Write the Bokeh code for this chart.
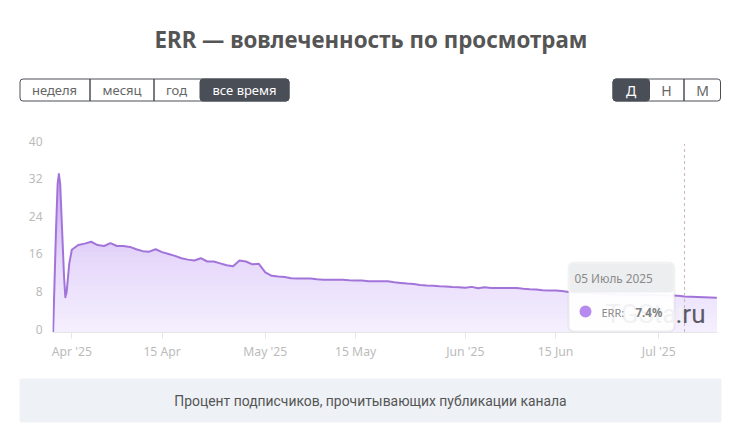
import numpy as np
import pandas as pd
from bokeh.embed import file_html
from bokeh.layouts import column
from bokeh.models import (BoxAnnotation, FixedTicker, Label, LinearAxis, Range1d)
from bokeh.plotting import figure
from bokeh.resources import INLINE

title_text = "ERR — вовлеченность по просмотрам"
note_text = "Процент подписчиков, прочитывающих публикации канала"
range_buttons = ["неделя", "месяц", "год", "все время"]
step_buttons = ["Д", "Н", "М"]
y_ticks = [0, 8, 16, 24, 32, 40]
x_tick_dates = ["2025-04-01", "2025-04-15", "2025-05-01", "2025-05-15", "2025-06-01", "2025-06-15", "2025-07-01"]
x_tick_labels = ["Apr '25", "15 Apr", "May '25", "15 May", "Jun '25", "15 Jun", "Jul '25"]

# hours-resolved reads around the opening spike
spike_days = [-2.9, -2.45, -2.2, -2.0, -1.8, -1.5, -1.2, -1.0, -0.8, -0.4]
spike_values = [0.0, 21.6, 31.5, 33.6, 31.5, 21.6, 11.7, 7.4, 8.5, 14.5]
# daily reads, starting 1 Apr 2025
daily_values = [17.5, 18.5, 18.8, 19.2, 18.5, 18.3, 18.9, 18.3, 18.3, 18.1,
                17.6, 17.2, 17.1, 17.6, 17.0, 16.6, 16.2, 15.7, 15.4, 15.2,
                15.7, 15.0, 15.0, 14.6, 14.2, 14.0, 15.2, 15.0, 14.4, 14.5,
                12.7, 11.95, 11.8, 11.7, 11.45, 11.4, 11.4, 11.4, 11.2, 11.1,
                11.1, 11.1, 11.1, 11.0, 10.95, 10.95, 10.8, 10.8, 10.8, 10.8,
                10.6, 10.45, 10.3, 10.2, 10.0, 9.9, 9.85, 9.75, 9.7, 9.55,
                9.5, 9.4, 9.6, 9.3, 9.5, 9.35, 9.35, 9.35, 9.35, 9.35,
                9.2, 9.1, 9.05, 8.9, 8.85, 8.85, 8.7, 8.5, 8.4, 8.35,
                8.3, 8.2, 8.15, 8.1, 8.05, 8.0, 7.95, 7.9, 7.9, 7.85,
                7.85, 7.8, 7.8, 7.75, 7.7, 7.55, 7.5, 7.45, 7.4, 7.35, 7.3]
marker_date = "2025-07-05"

APR1 = pd.Timestamp("2025-04-01")
days = np.array(spike_days + list(range(len(daily_values))), dtype=float)
values = np.array(spike_values + daily_values)
x = np.array([APR1 + pd.Timedelta(days=float(d)) for d in days], dtype="datetime64[ms]")

W = 725
TOP_H, MAIN_H, FOOT_H = 110, 260, 55
FL, FR, FT, FB = 52, 717, 125, 332   # chart frame edges in page pixels
PX_PER_UNIT = 4.7
ZERO_Y = 331.5


def panel(h):
    f = figure(width=W, height=h, output_backend="svg", toolbar_location=None,
               x_axis_location=None, y_axis_location=None, min_border=0,
               x_range=(0, W), y_range=(h, 0), frame_align=False)
    f.outline_line_color = None
    f.grid.visible = False
    return f


def box(f, oy, l, r, t, b, fill=None, line=None, radius=0, alpha=1.0):
    f.add_layout(BoxAnnotation(left=l, right=r, top=t - oy, bottom=b - oy,
                               left_units="canvas", right_units="canvas",
                               top_units="canvas", bottom_units="canvas",
                               fill_color=fill, fill_alpha=alpha if fill else 0,
                               line_color=line, line_alpha=1 if line else 0, line_width=1,
                               border_radius=radius, level="annotation", editable=False))


def text(f, oy, tx, cx, cy, size, color, font="Noto Sans", style="normal", align="center", base="middle"):
    f.add_layout(Label(x=cx, y=cy - oy, x_units="canvas", y_units="canvas", text=tx,
                       text_font=font, text_font_size=size, text_color=color, text_font_style=style,
                       text_align=align, text_baseline=base))


# ---------- header
top = panel(TOP_H)
DARK = "#4a4e57"
text(top, 0, title_text, 370.5, 39, "22.3px", "#555555", style="bold")
box(top, 0, 19.5, 288.5, 78.5, 100.5, fill="white", line=DARK, radius=3)
box(top, 0, 199.5, 288.5, 78.5, 100.5, fill=DARK, line=DARK, radius=3)
for sx in (89.5, 153.5):
    box(top, 0, sx, sx, 78.5, 100.5, line=DARK)
for t, cx, col in zip(range_buttons, (54, 121.5, 176, 244), ("#666666", "#666666", "#666666", "#ffffff")):
    text(top, 0, t, cx, 89.5, "13px", col)
box(top, 0, 612.5, 720, 78.5, 100.5, fill="white", line=DARK, radius=3)
box(top, 0, 612.5, 649, 78.5, 100.5, fill=DARK, line=DARK, radius=3)
box(top, 0, 683.5, 683.5, 78.5, 100.5, line=DARK)
for t, cx, col in zip(step_buttons, (630.5, 666, 702), ("#ffffff", "#666666", "#666666")):
    text(top, 0, t, cx, 89.5, "14px", col)

# ---------- chart
p = figure(width=W, height=MAIN_H, output_backend="svg", toolbar_location=None,
           x_axis_type="datetime", min_border_left=FL, min_border_right=W - FR,
           min_border_top=FT - TOP_H, min_border_bottom=TOP_H + MAIN_H - FB, frame_align=False,
           x_range=Range1d(APR1 + pd.Timedelta(days=(FL - 71.3) / 6.45),
                           APR1 + pd.Timedelta(days=(FR - 71.3) / 6.45)),
           y_range=Range1d((ZERO_Y - FB) / PX_PER_UNIT, (ZERO_Y - FT) / PX_PER_UNIT))
p.outline_line_color = None
p.xgrid.visible = False
p.ygrid.visible = False

c_top = np.array([0xc8, 0xa6, 0xf0])
c_mid = np.array([0xe6, 0xd9, 0xfa])
c_low = np.array([0xf5, 0xf0, 0xfe])
for lvl in np.arange(34.0, 0, -1.0):
    if lvl > 16:
        c = c_mid + (c_top - c_mid) * (lvl - 16) / 18
    else:
        c = c_low + (c_mid - c_low) * lvl / 16
    col = "#%02x%02x%02x" % tuple(int(round(v)) for v in c)
    p.varea(x=x, y1=np.zeros_like(values), y2=np.minimum(values, lvl), fill_color=col)
p.line(x=x, y=values, line_color="#a274da", line_width=2, line_join="round")
p.line(x=[pd.Timestamp(marker_date)] * 2, y=[0, 40], line_color="#c9b3c9", line_dash="3 3", line_width=1)

tick_ms = [pd.Timestamp(d).value / 1e6 for d in x_tick_dates]
xa = p.xaxis[0]
xa.ticker = FixedTicker(ticks=tick_ms)
xa.major_label_overrides = dict(zip(tick_ms, x_tick_labels))
xa.axis_line_color = "#e6e6e6"
xa.major_tick_line_color = "#e6e6e6"
xa.major_tick_out = 6
xa.major_tick_in = 0
xa.minor_tick_line_color = None
xa.major_label_text_color = "#bbbbbb"
xa.major_label_text_font = "Noto Sans"
xa.major_label_text_font_size = "12.2px"
xa.major_label_standoff = 4

p.yaxis[0].visible = False
off = 3 / PX_PER_UNIT   # tick labels sit 3px above the value they mark
p.extra_y_ranges = {"labels": Range1d((ZERO_Y - FB) / PX_PER_UNIT - off, (ZERO_Y - FT) / PX_PER_UNIT - off)}
ya = LinearAxis(y_range_name="labels", ticker=FixedTicker(ticks=y_ticks))
ya.axis_line_color = None
ya.major_tick_line_color = None
ya.minor_tick_line_color = None
ya.major_label_text_color = "#bbbbbb"
ya.major_label_text_font = "Noto Sans"
ya.major_label_text_font_size = "12px"
ya.major_label_standoff = 4
p.add_layout(ya, "left")

oy = TOP_H
box(p, oy, 567, 675, 261, 332, fill="#000000", radius=6, alpha=0.04)
box(p, oy, 568.5, 673.5, 262.5, 330.5, fill="#ffffff", line="#eeeeee", radius=5, alpha=0.95)
box(p, oy, 569, 673, 263, 292, fill="#eceef0", radius=4)
text(p, oy, "TGStat", 605, 313, "26px", "#f1f1f4", font="Roboto", align="left", base="alphabetic")
text(p, oy, ".ru", 675, 313, "26px", "#5b5b66", font="Roboto", align="left", base="alphabetic")
text(p, oy, "05 Июль 2025", 574, 277, "11.8px", "#8a8a8a", align="left")
box(p, oy, 579, 591, 305, 317, fill="#b78af0", radius=6)
text(p, oy, "ERR:", 601, 312, "11px", "#8a8a8a", align="left")
text(p, oy, "7.4%", 635, 312, "11.5px", "#808080", align="left", style="bold")

# ---------- footer
foot = panel(FOOT_H)
oy2 = TOP_H + MAIN_H
box(foot, oy2, 19, 721, 378, 422, fill="#eef1f6", radius=2)
text(foot, oy2, note_text, 370, 400, "13.9px", "#555555", font="Roboto")

open("out.html", "w").write(file_html(column(top, p, foot, spacing=0), INLINE))
